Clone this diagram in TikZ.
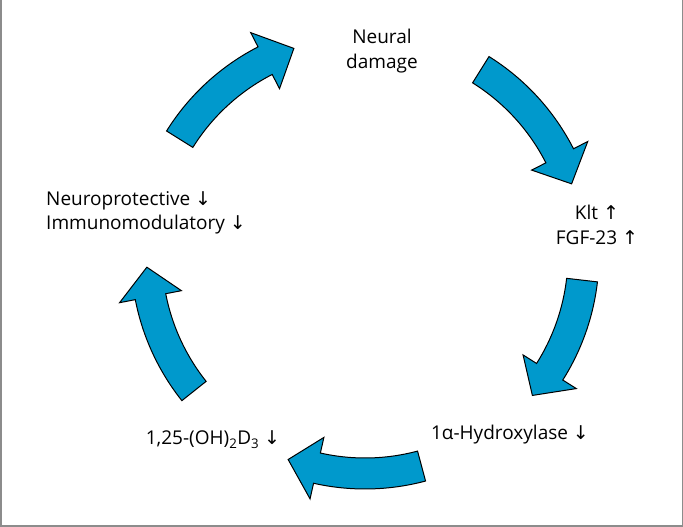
\documentclass[tikz,border=0pt]{standalone}
\usepackage{fontspec}
\setmainfont{Open Sans}
\newfontfamily\arrowfont{DejaVu Sans}
\usetikzlibrary{calc}

\definecolor{cycleblue}{RGB}{0,153,204}
\definecolor{framegray}{RGB}{140,140,140}

% curved block arrow round (c): tail angle, head base angle, tip angle
\newcommand{\cyclearrow}[3]{%
  \draw[blockarrow] ($(c)+(#1:234)$) arc[start angle=#1, end angle=#2, radius=234]
    -- ($(c)+(#2:250)$) -- ($(c)+(#3:218.5)$) -- ($(c)+(#2:187)$)
    -- ($(c)+(#2:203)$) arc[start angle=#2, end angle=#1, radius=203] -- cycle;}

\begin{document}
\begin{tikzpicture}[x=1pt, y=1pt,
    cyclelabel/.style={inner sep=0pt, align=center, font=\fontsize{19}{24.5}\selectfont},
    blockarrow/.style={draw=black, line width=1pt, fill=cycleblue}]
        \useasboundingbox (0,0) rectangle (683,527);
        \draw[framegray, line width=1.5pt] (0.75,527) -- (0.75,0.75) -- (682.25,0.75) -- (682.25,527);

        \coordinate (c) at (365,272);

        % Labels
        \node[cyclelabel, anchor=north] (damage) at (382,498) {Neural\\damage};
        \node[cyclelabel, anchor=north] (klotho) at (597,322) {Klt {\arrowfont ↑}\\FGF-23 {\arrowfont ↑}};
        \node[cyclelabel, anchor=base] (hydroxylase) at (510,87) {1α-Hydroxylase {\arrowfont ↓}};
        \node[cyclelabel, anchor=base] (calcitriol) at (213,82) {1,25-(OH)\textsubscript{2}D\textsubscript{3} {\arrowfont ↓}};
        \node[cyclelabel, anchor=north west, align=left] (protective) at (46,336) {Neuroprotective {\arrowfont ↓}\\Immunomodulatory {\arrowfont ↓}};

        % Arrows
        \cyclearrow{58}{27}{19}
        \cyclearrow{-6.6}{-32.3}{-40}
        \cyclearrow{-75}{-102.7}{-110.6}
        \cyclearrow{-141.5}{-169}{-176.8}
        \cyclearrow{148}{117.2}{109}
    \end{tikzpicture}
\end{document}
